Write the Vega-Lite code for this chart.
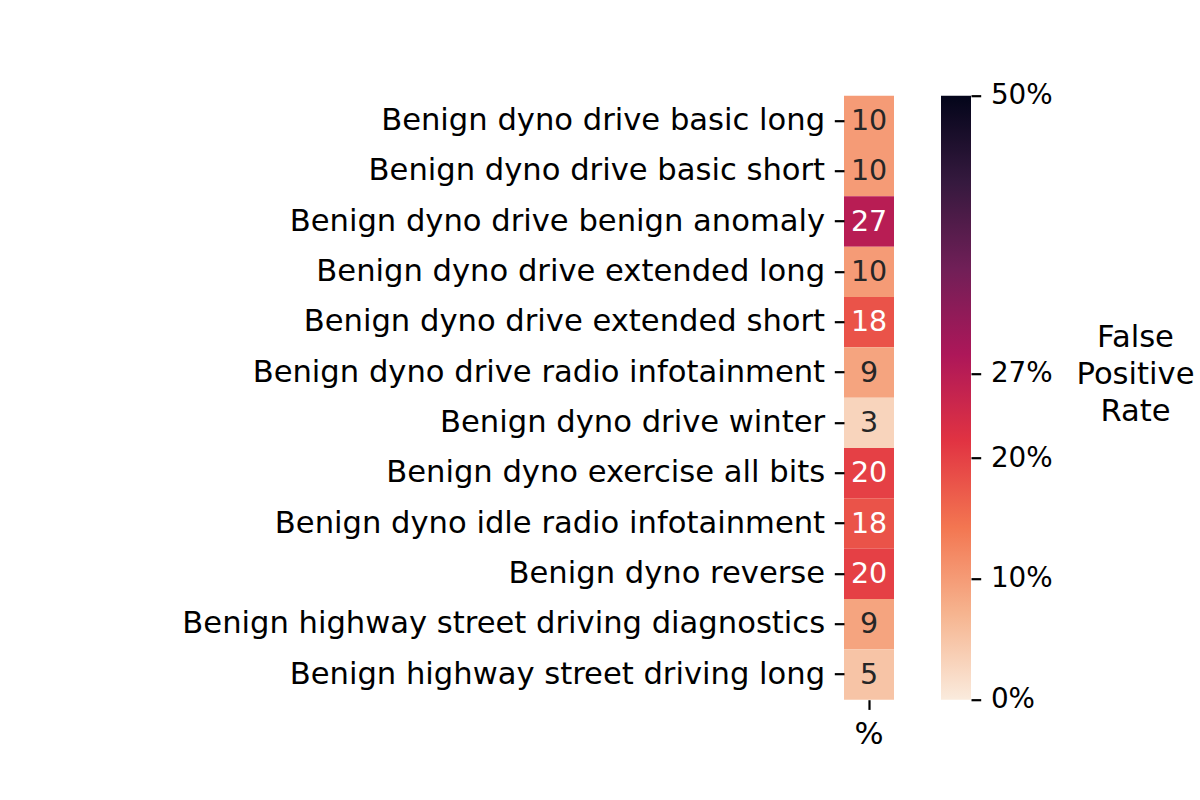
{
  "$schema": "https://vega.github.io/schema/vega-lite/v6.json",
  "autosize": {"type": "none"},
  "padding": {"left": 844, "top": 95.7, "right": 356, "bottom": 704.3},
  "background": "white",
  "config": {
    "view": {"stroke": null},
    "font": "DejaVu Sans",
    "axis": {"labelFont": "DejaVu Sans", "titleFont": "DejaVu Sans", "labelColor": "black", "tickColor": "black", "titleColor": "black"}
  },
  "datasets": {
    "rates": [
      {"scenario": "Benign dyno drive basic long", "col": "%", "v": 10},
      {"scenario": "Benign dyno drive basic short", "col": "%", "v": 10},
      {"scenario": "Benign dyno drive benign anomaly", "col": "%", "v": 27},
      {"scenario": "Benign dyno drive extended long", "col": "%", "v": 10},
      {"scenario": "Benign dyno drive extended short", "col": "%", "v": 18},
      {"scenario": "Benign dyno drive radio infotainment", "col": "%", "v": 9},
      {"scenario": "Benign dyno drive winter", "col": "%", "v": 3},
      {"scenario": "Benign dyno exercise all bits", "col": "%", "v": 20},
      {"scenario": "Benign dyno idle radio infotainment", "col": "%", "v": 18},
      {"scenario": "Benign dyno reverse", "col": "%", "v": 20},
      {"scenario": "Benign highway street driving diagnostics", "col": "%", "v": 9},
      {"scenario": "Benign highway street driving long", "col": "%", "v": 5}
    ],
    "bar": [{"bar": "cb", "lo": 0, "hi": 50}]
  },
  "hconcat": [
    {
      "width": 50,
      "height": 604,
      "data": {"name": "rates"},
      "encoding": {
        "x": {
          "field": "col", "type": "nominal",
          "scale": {"paddingInner": 0, "paddingOuter": 0},
          "axis": {"title": null, "domain": false, "labelAngle": 0, "labelFontSize": 30.6, "tickSize": 9.7, "tickWidth": 2.2, "labelPadding": 9.7}
        },
        "y": {
          "field": "scenario", "type": "nominal", "sort": null,
          "scale": {"paddingInner": 0, "paddingOuter": 0},
          "axis": {"title": null, "domain": false, "labelFontSize": 30.6, "tickSize": 9.7, "tickWidth": 2.2, "labelPadding": 9.7, "labelLimit": 1000}
        }
      },
      "layer": [
        {
          "mark": {"type": "rect"},
          "encoding": {
            "color": {
              "field": "v", "type": "quantitative",
              "scale": {
                "domain": [0, 7.142857, 14.285714, 21.428571, 28.571429, 35.714286, 42.857143, 50],
                "range": ["#faebdd", "#f6b48f", "#f37651", "#e13342", "#ad1759", "#701f57", "#35193e", "#03051a"],
                "interpolate": "rgb"
              },
              "legend": null
            }
          }
        },
        {
          "mark": {"type": "text", "fontSize": 28.5, "font": "DejaVu Sans", "align": "center", "baseline": "middle"},
          "encoding": {
            "text": {"field": "v", "type": "quantitative", "format": "d"},
            "color": {"condition": {"test": "datum.v >= 15", "value": "white"}, "value": "#262626"}
          }
        }
      ]
    },
    {
      "width": 30,
      "height": 604,
      "data": {"name": "bar"},
      "mark": {
        "type": "rect",
        "color": {
          "gradient": "linear", "x1": 0, "y1": 1, "x2": 0, "y2": 0,
          "stops": [
            {"offset": 0, "color": "#faebdd"},
            {"offset": 0.142857, "color": "#f6b48f"},
            {"offset": 0.285714, "color": "#f37651"},
            {"offset": 0.428571, "color": "#e13342"},
            {"offset": 0.571429, "color": "#ad1759"},
            {"offset": 0.714286, "color": "#701f57"},
            {"offset": 0.857143, "color": "#35193e"},
            {"offset": 1, "color": "#03051a"}
          ]
        }
      },
      "encoding": {
        "x": {"field": "bar", "type": "nominal", "scale": {"paddingInner": 0, "paddingOuter": 0}, "axis": null},
        "y": {
          "field": "lo", "type": "quantitative",
          "scale": {"domain": [0, 50], "nice": false},
          "axis": {
            "orient": "right", "values": [0, 10, 20, 27, 50], "labelExpr": "datum.value + '%'",
            "domain": false, "grid": false, "labelFontSize": 27.8, "tickSize": 9.7, "tickWidth": 2.2, "labelPadding": 9.7,
            "labelOverlap": false, "labelBound": false, "labelFlush": false,
            "title": ["False", "Positive", "Rate"], "titleAngle": 0, "titleX": 164, "titleY": 242,
            "titleAlign": "center", "titleBaseline": "middle", "titleFontSize": 30.6, "titleFontWeight": "normal", "titleLineHeight": 36.7
          }
        },
        "y2": {"field": "hi"}
      }
    }
  ],
  "spacing": 47
}
